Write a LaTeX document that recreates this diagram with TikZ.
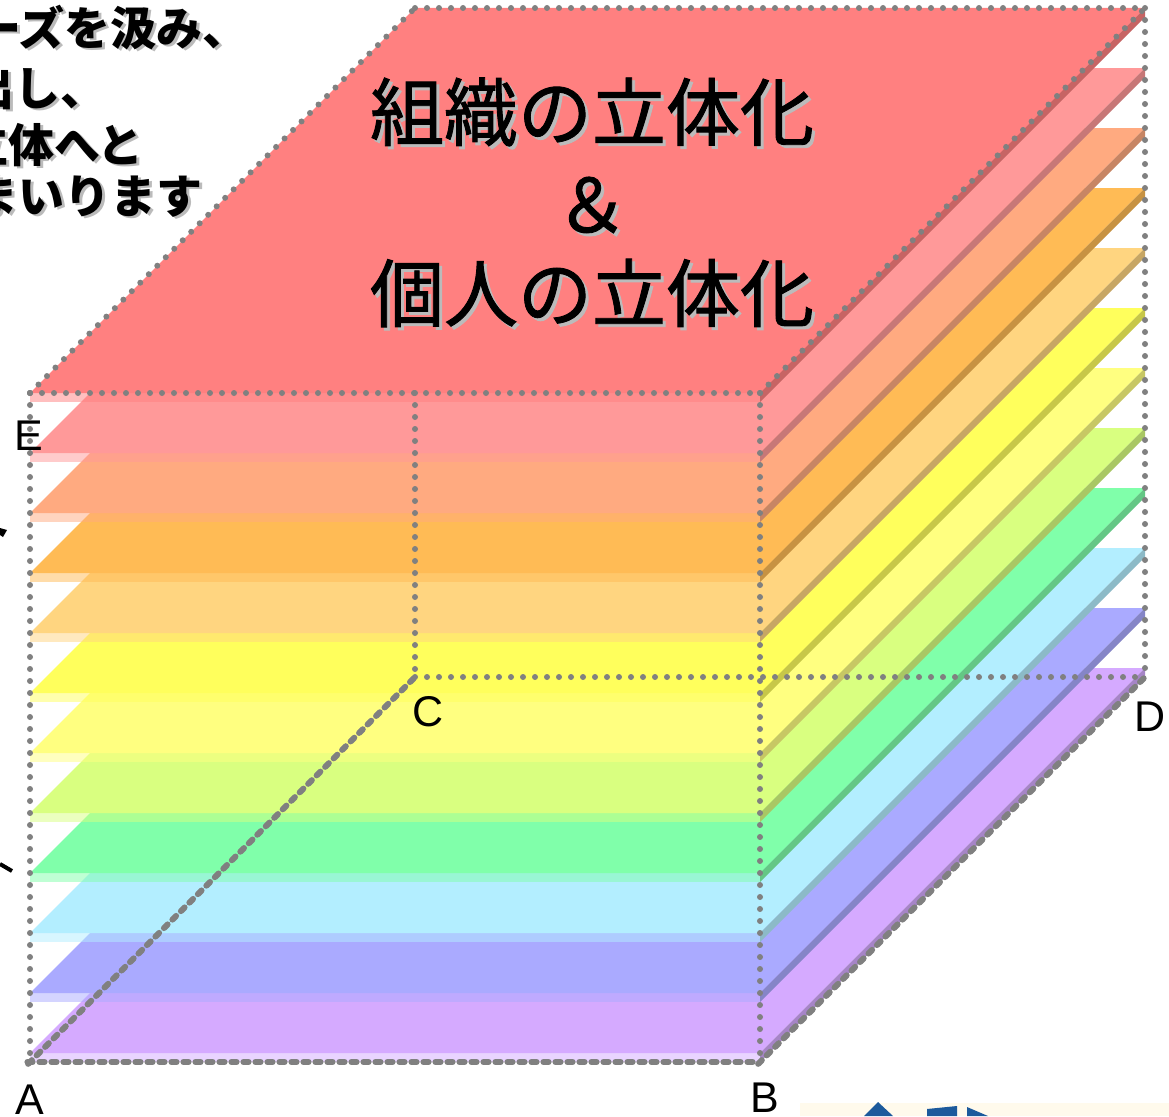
\documentclass[tikz,border=0pt]{standalone}
\usepackage{fontspec}
\usetikzlibrary{decorations.markings}
\setmainfont{Liberation Sans}
\newfontfamily\jp{Noto Sans CJK JP}
\newfontfamily\jpm[FakeBold=1.2]{Noto Sans CJK JP}
\definecolor{L0}{HTML}{FF8080}
\definecolor{L1}{HTML}{FF9999}
\definecolor{L2}{HTML}{FFAA80}
\definecolor{L3}{HTML}{FFBB55}
\definecolor{L4}{HTML}{FFD580}
\definecolor{L5}{HTML}{FFFF5C}
\definecolor{L6}{HTML}{FFFF80}
\definecolor{L7}{HTML}{D9FF80}
\definecolor{L8}{HTML}{80FFAA}
\definecolor{L9}{HTML}{B3EEFF}
\definecolor{L10}{HTML}{AAAAFF}
\definecolor{L11}{HTML}{D5AAFF}
\definecolor{edgegray}{HTML}{808080}
\definecolor{shadowgray}{HTML}{BBBBBB}
\definecolor{cream}{HTML}{FFFAEC}
\definecolor{logoblue}{HTML}{1C5A9C}
\tikzset{
  dotedge/.style={decoration={markings,
      mark=between positions 0 and 1 step 12pt with {\fill[edgegray] (0pt,0pt) circle (3pt);}},
      decorate},
  dashedge/.style={decoration={markings,
      mark=between positions 0 and 1 step 12pt with {\draw[edgegray, line width=6pt, line cap=round] (-2.6pt,0pt) -- (2.6pt,0pt);}},
      decorate},
  toptxt/.style={inner sep=0pt, font=\jpm\fontsize{74}{80}\selectfont},
  sidetxt/.style={inner sep=0pt, anchor=west, font=\jp\bfseries\fontsize{46}{50}\selectfont},
  lbl/.style={inner sep=0pt, font=\fontsize{43}{48}\selectfont}
}
\begin{document}
\begin{tikzpicture}[x=1pt,y=-1pt]
\useasboundingbox (0,0) rectangle (1169,1116);
\clip (0,0) rectangle (1169,1116);
\fill[white] (0,0) rectangle (1169,1116);

% cube corners
\coordinate (A) at (30,1062);
\coordinate (B) at (760,1062);
\coordinate (C) at (415,677);
\coordinate (D) at (1145,677);
\coordinate (E) at (30,393);
\coordinate (F) at (760,393);
\coordinate (G) at (1145,8);
\coordinate (H) at (415,8);
\coordinate (I) at (415,393);
\coordinate (A1) at (30,1056);
\coordinate (B1) at (760,1056);

% layers, bottom first
\foreach \k in {11,10,...,0} {
  \pgfmathsetmacro\yf{393+60*\k}
  \pgfmathsetmacro\yb{\yf-385}
  \fill[L\k] (30,\yf) -- (760,\yf) -- (1145,\yb) -- (415,\yb) -- cycle;
  \fill[L\k!78!black] (760,\yf) -- (1145,\yb) -- (1145,\yb+9) -- (760,\yf+9) -- cycle;
  \fill[L\k, fill opacity=0.5] (30,\yf) rectangle (760,\yf+9);
}

% cube edges
\path[dotedge] (E) -- (F);
\path[dotedge] (F) -- (G);
\path[dotedge] (H) -- (G);
\path[dotedge] (E) -- (H);
\path[dotedge] (E) -- (A1);
\path[dotedge] (F) -- (B1);
\path[dotedge] (G) -- (D);
\path[dotedge] (I) -- (C);
\path[dotedge] (C) -- (D);
\path[dashedge] (A) -- (B);
\path[dashedge] (A) -- (C);
\path[dashedge] (B) -- (D);

% top face text
\node[toptxt, text=shadowgray] (t1s) at (595,115) {組織の立体化};
\node[toptxt] (t1) at (592,112) {組織の立体化};
\node[toptxt, text=shadowgray] (t2s) at (595,208) {＆};
\node[toptxt] (t2) at (592,205) {＆};
\node[toptxt, text=shadowgray] (t3s) at (595,296) {個人の立体化};
\node[toptxt] (t3) at (592,293) {個人の立体化};

% top-left text (cut off at left edge)
\node[sidetxt, text=shadowgray] (s1s) at (-22,30) {ーズを汲み、};
\node[sidetxt] (s1) at (-25,28) {ーズを汲み、};
\node[sidetxt, text=shadowgray] (s2s) at (-29,90) {出し、};
\node[sidetxt] (s2) at (-32,88) {出し、};
\node[sidetxt, text=shadowgray] (s3s) at (-35,147) {立体へと};
\node[sidetxt] (s3) at (-38,145) {立体へと};
\node[sidetxt, text=shadowgray] (s4s) at (-25,199) {まいります};
\node[sidetxt] (s4) at (-28,197) {まいります};

% fragments at left edge
\fill[black] (0,528) -- (7,530) -- (3,537) -- (0,535) -- cycle;
\draw[black, line width=4pt] (0,864) -- (12,871);

% corner labels
\node[lbl] (la) at (30,1100) {A};
\node[lbl] (lb) at (765,1098) {B};
\node[lbl] (lc) at (428,712) {C};
\node[lbl] (ld) at (1150,717) {D};
\node[lbl] (le) at (29,436) {E};

% logo fragment
\fill[cream] (800,1103) rectangle (1169,1116);
\fill[logoblue] (878,1102) -- (893,1116) -- (864,1116) -- cycle;
\fill[logoblue] (927,1109) -- (957,1106) -- (957,1116) -- (927,1116) -- cycle;
\fill[logoblue] (967,1107) -- (988,1116) -- (967,1116) -- cycle;
\end{tikzpicture}
\end{document}
